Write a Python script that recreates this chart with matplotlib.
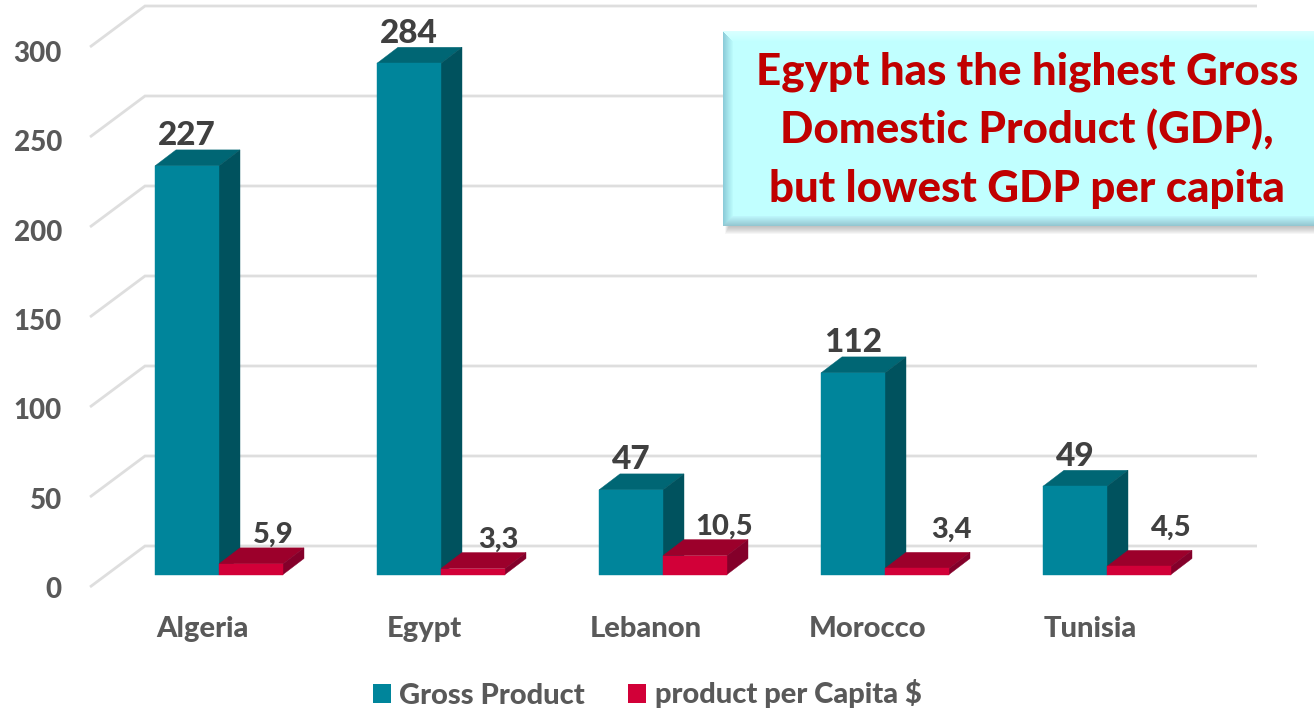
import matplotlib
matplotlib.use("Agg")
import matplotlib.pyplot as plt
from matplotlib.patches import Polygon, Rectangle, Patch

countries = ["Algeria", "Egypt", "Lebanon", "Morocco", "Tunisia"]
gross_product = [227, 284, 47, 112, 49]
per_capita = [5.9, 3.3, 10.5, 3.4, 4.5]
per_capita_labels = ["5,9", "3,3", "10,5", "3,4", "4,5"]
y_ticks = [0, 50, 100, 150, 200, 250, 300]
series_names = ["Gross Product", "product per Capita $"]
note_lines = ["Egypt has the highest Gross", "Domestic Product (GDP),", "but lowest GDP per capita"]

W, H = 1314, 709
PX_PER_UNIT = 1.8
PX_PER_CAT = 222
BASE_PX = 574.5
ORIGIN_PX = 219
BAR_W = 64 / PX_PER_CAT
DX = 21 / PX_PER_CAT
DY = 16 / PX_PER_UNIT

plt.rcParams["font.family"] = ["Lato", "DejaVu Sans"]
plt.rcParams["font.weight"] = "black"

fig = plt.figure(figsize=(W / 100, H / 100), dpi=100)
ax = fig.add_axes([0, 0, 1, 1])
ax.set_xlim(-ORIGIN_PX / PX_PER_CAT, (W - ORIGIN_PX) / PX_PER_CAT)
ax.set_ylim((BASE_PX - H) / PX_PER_UNIT, BASE_PX / PX_PER_UNIT)
ax.axis("off")


def xp(px):
    return (px - ORIGIN_PX) / PX_PER_CAT


def yoff(px):
    return px / PX_PER_UNIT


# walls / gridlines
WALL_DY = 28.5 / PX_PER_UNIT  # back wall lift above the bar base
for v in y_ticks:
    back = v + WALL_DY
    front = back - yoff(41)
    ax.plot([xp(90), xp(145), xp(1257)], [front, back, back], color="#dedede",
            lw=2.0, zorder=1, solid_joinstyle="miter", solid_capstyle="butt")
    ax.text(xp(62), front - yoff(3 + 4 * v / 300), str(v), ha="right", va="center",
            fontsize=20, color="#595959", zorder=2)


def bar3d(x_left, value, front, top, side, z):
    ax.bar(x_left, value, width=BAR_W, align="edge", color=front, ec=front, lw=0.3, zorder=z + 0.2)
    x_r = x_left + BAR_W
    ax.add_patch(Polygon([(x_left, value), (x_left + DX, value + DY),
                          (x_r + DX, value + DY), (x_r, value)],
                         closed=True, fc=top, ec=top, lw=0.3, zorder=z + 0.1))
    ax.add_patch(Polygon([(x_r, 0), (x_r + DX, DY), (x_r + DX, value + DY), (x_r, value)],
                         closed=True, fc=side, ec=side, lw=0.3, zorder=z + 0.1))


C_GROSS = ("#00859B", "#006674", "#00525E")
C_CAP = ("#D20038", "#9C002B", "#84002A")

cap_dx = [22, 25, 29, 34, 32]
cap_dy = [13, 13, 13, 23, 23]
for i, name in enumerate(countries):
    bar3d(i - BAR_W, gross_product[i], *C_GROSS, 3 + i * 2)
    bar3d(i, per_capita[i], *C_CAP, 4 + i * 2)
    ax.text(i - BAR_W / 2, gross_product[i] + DY + yoff(14), str(gross_product[i]),
            ha="center", va="center", fontsize=24, color="#404040", zorder=20)
    ax.text(i + BAR_W / 2 + xp(ORIGIN_PX + cap_dx[i]), per_capita[i] + DY + yoff(cap_dy[i]),
            per_capita_labels[i], ha="center", va="center", fontsize=21,
            color="#404040", zorder=20)
    ax.text(i + xp(ORIGIN_PX - 17), -yoff(54.5), name, ha="center", va="center",
            fontsize=21, color="#595959", zorder=20)

# callout box in pixel space
ov = fig.add_axes([0, 0, 1, 1], zorder=10)
ov.set_xlim(0, W)
ov.set_ylim(H, 0)
ov.axis("off")
ov.patch.set_alpha(0)
L, T, B = 723, 31, 226
R = W + 5
FILL = "#C1FFFF"
for k in range(8):
    ov.add_patch(Rectangle((L + 2 + k * 0.5, B), R - L, 8 - k, fc="#808080", alpha=0.07, ec="none"))
ov.add_patch(Rectangle((L, T), R - L, B - T, fc=FILL, ec="none"))
N = 10
for k in range(N):
    f = k / N
    ov.add_patch(Rectangle((L + k, T + k), 1, B - T - 2 * k,
                           fc=(0.55 + 0.2 * f, 0.80 + 0.2 * f, 0.85 + 0.15 * f), ec="none"))
    ov.add_patch(Rectangle((L + k, B - k - 1), R - L, 1,
                           fc=(0.58 + 0.17 * f, 0.78 + 0.2 * f, 0.82 + 0.18 * f), ec="none"))
    ov.add_patch(Rectangle((L + k, T + k), R - L, 1,
                           fc=(0.85 - 0.09 * f, 1.0, 1.0), ec="none"))
for j, line in enumerate(note_lines):
    ov.text(1027, 84 + 59 * j, line, ha="center", va="baseline", fontsize=31.6, color="#C00000", zorder=5)

handles = [Patch(fc=C_GROSS[0], lw=0), Patch(fc=C_CAP[0], lw=0)]
leg = fig.legend(handles, series_names, loc="center", bbox_to_anchor=(647 / W, 1 - 694 / H),
                 ncol=2, frameon=False, fontsize=21, handlelength=0.62, handleheight=0.62,
                 handletextpad=0.28, columnspacing=1.5, labelcolor="#595959",
                 borderpad=0, borderaxespad=0)

fig.savefig("out.png", dpi=100, facecolor="white")
